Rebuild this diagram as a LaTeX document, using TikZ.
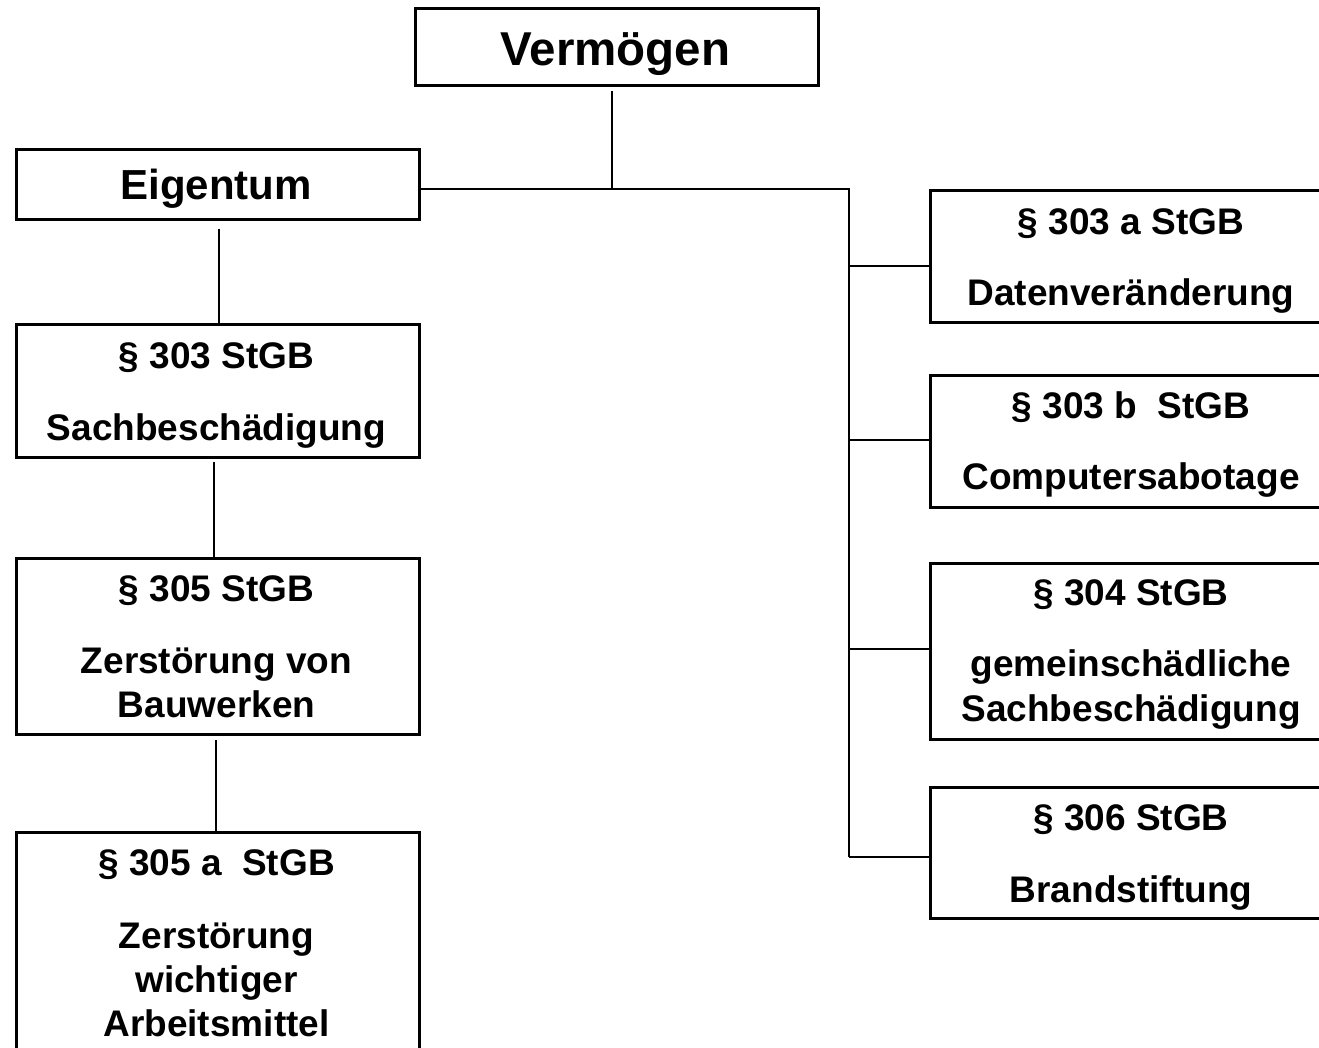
\documentclass[tikz,border=0pt]{standalone}
\usepackage{fontspec}
\setmainfont{Liberation Sans}
\begin{document}
\begin{tikzpicture}[x=1pt,y=-1pt,
  box/.style={draw, line width=2.7pt, rectangle, inner sep=0pt, anchor=north west},
  lbl/.style={font=\bfseries\fontsize{37}{45}\selectfont, anchor=base, inner sep=0pt},
  conn/.style={line width=2.5pt}]
\useasboundingbox (0,0) rectangle (1319,1048);
\clip (0,0) rectangle (1319,1048);
% boxes
\node[box, minimum width=403pt, minimum height=77pt] (verm) at (414,7) {};
\node[box, minimum width=403pt, minimum height=70pt] (eig) at (15,148) {};
\node[box, minimum width=403pt, minimum height=133pt] (b303) at (15,323) {};
\node[box, minimum width=403pt, minimum height=176pt] (b305) at (15,557) {};
\node[box, minimum width=403pt, minimum height=240pt] (b305a) at (15,831) {};
\node[box, minimum width=420pt, minimum height=132pt] (r1) at (929,189) {};
\node[box, minimum width=420pt, minimum height=132pt] (r2) at (929,374) {};
\node[box, minimum width=420pt, minimum height=176pt] (r3) at (929,562) {};
\node[box, minimum width=420pt, minimum height=131pt] (r4) at (929,786) {};
% texts
\node[lbl, font=\bfseries\fontsize{47.5}{50}\selectfont] (tverm) at (615.5,66) {Vermögen};
\node[lbl, font=\bfseries\fontsize{42}{45}\selectfont] (teig) at (216,200) {Eigentum};
\node[lbl] (t303a) at (216.5,368) {§ 303 StGB};
\node[lbl] (t303b) at (216.5,440) {Sachbeschädigung};
\node[lbl] (t305a) at (216.5,601) {§ 305 StGB};
\node[lbl] (t305b) at (216.5,673) {Zerstörung von};
\node[lbl] (t305c) at (216.5,717) {Bauwerken};
\node[lbl] (t305aa) at (216.5,875) {§ 305 a\ \ StGB};
\node[lbl] (t305ab) at (216.5,948) {Zerstörung};
\node[lbl] (t305ac) at (216.5,992) {wichtiger};
\node[lbl] (t305ad) at (216.5,1036) {Arbeitsmittel};
\node[lbl] (tr1a) at (1131,235) {§ 303 a StGB};
\node[lbl] (tr1b) at (1131,306) {Datenveränderung};
\node[lbl] (tr2a) at (1131,418) {§ 303 b\ \ StGB};
\node[lbl] (tr2b) at (1131,489) {Computersabotage};
\node[lbl] (tr3a) at (1131,605) {§ 304 StGB};
\node[lbl] (tr3b) at (1131,676) {gemeinschädliche};
\node[lbl] (tr3c) at (1131,721) {Sachbeschädigung};
\node[lbl] (tr4a) at (1131,830) {§ 306 StGB};
\node[lbl] (tr4b) at (1131,902) {Brandstiftung};
% connector points
\coordinate (vtop) at (612,91);
\coordinate (vj) at (612,189);
\coordinate (hub) at (849,189);
\coordinate (hend) at (849,857);
\coordinate (e1) at (219,229);
\coordinate (e2) at (214,462);
\coordinate (e3) at (216,740);
% connectors
\draw[conn] (vtop) -- (vj);
\draw[conn] (eig.east |- hub) -- (hub) -- (hend);
\draw[conn] (849,266) -- (r1.west |- 0,266);
\draw[conn] (849,440) -- (r2.west |- 0,440);
\draw[conn] (849,649) -- (r3.west |- 0,649);
\draw[conn] (hend) -- (r4.west |- hend);
\draw[conn] (e1) -- (e1 |- b303.north);
\draw[conn] (e2) -- (e2 |- b305.north);
\draw[conn] (e3) -- (e3 |- b305a.north);
\end{tikzpicture}
\end{document}
